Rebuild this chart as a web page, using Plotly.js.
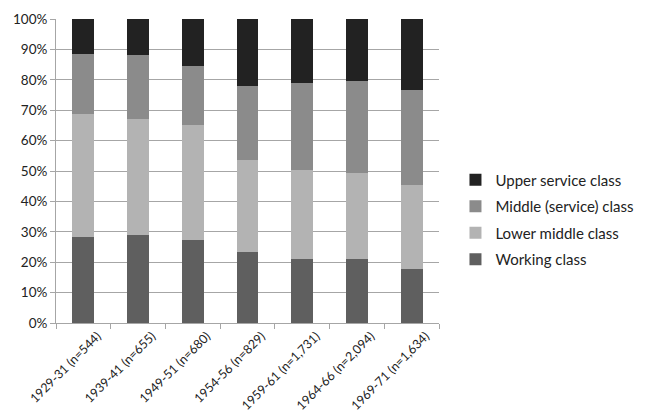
<!DOCTYPE html>
<html><head><meta charset="utf-8">
<script src="https://cdn.plot.ly/plotly-3.0.1.min.js"></script>
<style>body{margin:0;background:#fff}</style>
</head><body>
<div id="chart" style="width:651px;height:414px"></div>
<script>
const categories = ["1929-31 (n=544)","1939-41 (n=655)","1949-51 (n=680)","1954-56 (n=829)","1959-61 (n=1,731)","1964-66 (n=2,094)","1969-71 (n=1,634)"];
const workingClass = [28.4, 28.8, 27.3, 23.4, 21.2, 21.1, 17.8];
const lowerMiddleClass = [40.2, 38.3, 37.9, 30.2, 29.2, 28.4, 27.6];
const middleServiceClass = [19.8, 21.1, 19.5, 24.2, 28.7, 30.0, 31.4];
const upperServiceClass = [11.6, 11.8, 15.3, 22.2, 20.9, 20.5, 23.2];
const seriesNames = ["Working class","Lower middle class","Middle (service) class","Upper service class"];
const seriesColors = ["#5f5f5f","#b3b3b3","#8b8b8b","#222222"];
const seriesValues = [workingClass, lowerMiddleClass, middleServiceClass, upperServiceClass];

const traces = seriesValues.map((v,i)=>({
  type:'bar', name:seriesNames[i], x:categories, y:v, legendgroup:'g'+i, legendrank:4-i,
  marker:{color:seriesColors[i], line:{width:0}}
}));
const layout = {
  width:651, height:414,
  margin:{l:56,r:206,t:19,b:91},
  barmode:'stack', bargap:0.6,
  font:{family:'Lato, "Open Sans", sans-serif', color:'#222', size:13},
  paper_bgcolor:'#fff', plot_bgcolor:'#fff',
  xaxis:{type:'category', tickangle:-45, showline:true, linecolor:'#a6a6a6', linewidth:1,
    ticks:'outside', tickson:'boundaries', ticklen:5, tickcolor:'#a6a6a6', showgrid:false,
    tickfont:{size:12.5}, ticklabelshift:14},
  yaxis:{range:[0,100], dtick:10, ticksuffix:'%', showline:true, linecolor:'#a6a6a6', linewidth:1,
    ticks:'outside', ticklen:5, tickcolor:'#a6a6a6', gridcolor:'#a6a6a6', gridwidth:1,
    zeroline:false, tickfont:{size:13.5}},
  legend:{x:1.043, y:0.525, xanchor:'left', yanchor:'top', traceorder:'grouped',
    font:{size:15}, itemwidth:30, tracegroupgap:4}
};
Plotly.newPlot('chart', traces, layout, {displayModeBar:false, staticPlot:true});
</script>
</body></html>
